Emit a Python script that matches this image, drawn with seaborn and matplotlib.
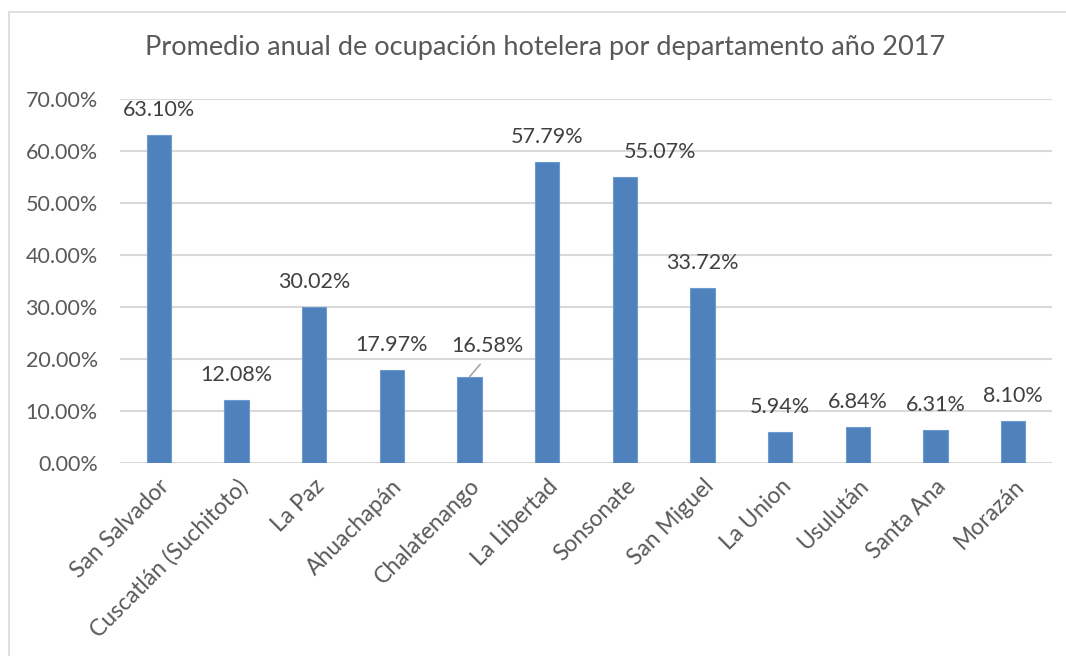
import matplotlib
matplotlib.use("Agg")
import matplotlib.pyplot as plt
import seaborn as sns
from matplotlib.patches import Rectangle
from matplotlib.ticker import FuncFormatter, MultipleLocator

# -------------------- Data --------------------

departamentos = [
    "San Salvador", "Cuscatlán (Suchitoto)", "La Paz", "Ahuachapán",
    "Chalatenango", "La Libertad", "Sonsonate", "San Miguel",
    "La Union", "Usulután", "Santa Ana", "Morazán",
]
ocupacion = [63.10, 12.08, 30.02, 17.97, 16.58, 57.79, 55.07, 33.72,
             5.94, 6.84, 6.31, 8.10]
titulo = "Promedio anual de ocupación hotelera por departamento año 2017"

# label nudges in pixels (x, y above bar top)
label_offsets = [(0, 25)] * len(departamentos)
label_offsets[4] = (18, 31)
label_offsets[6] = (35, 25)

# -------------------- Style --------------------

BLUE = "#4F81BD"
TEXT = "#595959"
GRID = "#D9D9D9"

sns.set_style("white")
plt.rcParams["font.family"] = ["Lato", "DejaVu Sans"]

fig = plt.figure(figsize=(10.66, 6.56), dpi=100)
ax = fig.add_axes([120 / 1066, 1 - 463 / 656, 932 / 1066, 364 / 656])

sns.barplot(x=departamentos, y=ocupacion, color=BLUE, width=0.31,
            saturation=1, edgecolor="#6F9AD0", linewidth=0.8, ax=ax)

ax.set_xlim(-0.5, len(departamentos) - 0.5)
ax.set_ylim(0, 70)
ax.yaxis.set_major_locator(MultipleLocator(10))
ax.yaxis.set_major_formatter(FuncFormatter(lambda v, _: f"{v:.2f}%"))
ax.grid(axis="y", color=GRID, linewidth=1.5)
ax.set_axisbelow(True)
for s in ax.spines.values():
    s.set_visible(False)
ax.set_xlabel("")
ax.set_ylabel("")
ax.tick_params(axis="y", length=0, pad=16, labelsize=15.5, labelcolor=TEXT)
ax.tick_params(axis="x", length=0, pad=9, labelsize=16.5, labelcolor=TEXT)
plt.setp(ax.get_xticklabels(), rotation=45, ha="right", rotation_mode="anchor")

for i, (v, (dx, dy)) in enumerate(zip(ocupacion, label_offsets)):
    arrow = None
    if i == 4:
        arrow = dict(arrowstyle="-", color="#A6A6A6", lw=1.2,
                     shrinkA=5, shrinkB=0, relpos=(0.5, 0))
    ax.annotate(f"{v:.2f}%", xy=(i, v), xytext=(dx, dy),
                textcoords="offset pixels", ha="center", va="center",
                fontsize=15.5, color="#404040", arrowprops=arrow)

fig.text(545 / 1066, 1 - 48 / 656, titulo, ha="center", va="center",
         fontsize=19.5, color=TEXT)

# chart area border
fig.patches.append(Rectangle((8.5 / 1066, -0.1), 1.2, 1 - 11.5 / 656 + 0.1,
                             transform=fig.transFigure, fill=False,
                             edgecolor=GRID, linewidth=1.2))

fig.savefig("out.png", dpi=100)
